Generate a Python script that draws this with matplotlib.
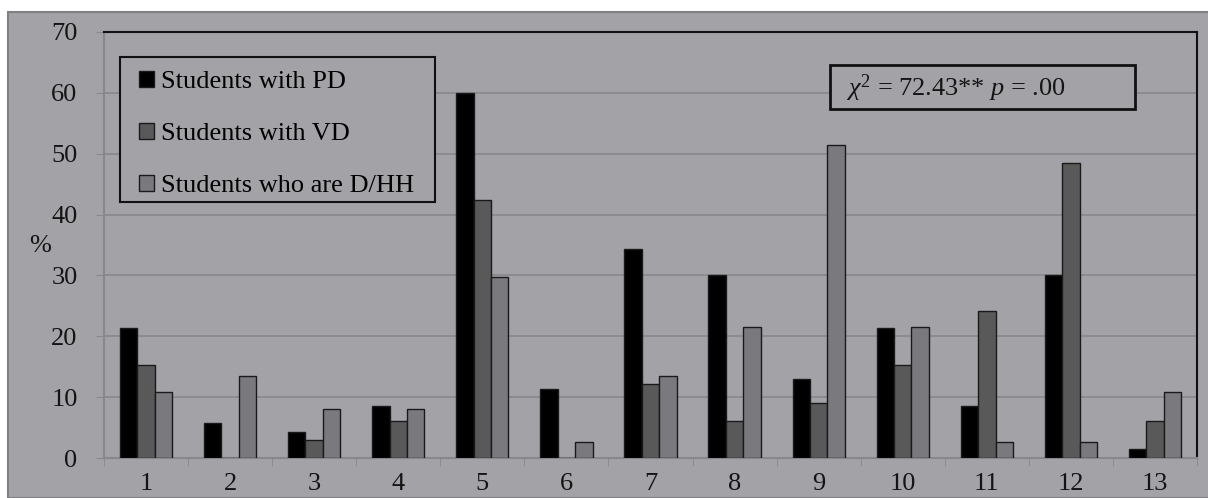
import matplotlib
matplotlib.use("Agg")
import matplotlib.pyplot as plt
import numpy as np
from matplotlib.patches import Rectangle

categories = ["1", "2", "3", "4", "5", "6", "7", "8", "9", "10", "11", "12", "13"]
pd_vals = [21.3, 5.7, 4.3, 8.6, 60.0, 11.4, 34.3, 30.0, 12.9, 21.4, 8.6, 30.0, 1.4]
vd_vals = [15.3, 0.0, 3.0, 6.1, 42.4, 0.0, 12.1, 6.1, 9.1, 15.2, 24.2, 48.5, 6.1]
dhh_vals = [10.8, 13.5, 8.1, 8.1, 29.7, 2.7, 13.5, 21.6, 51.4, 21.6, 2.7, 2.7, 10.8]
series_names = ["Students with PD", "Students with VD", "Students who are D/HH"]
y_ticks = [0, 10, 20, 30, 40, 50, 60, 70]

plt.rcParams['font.family'] = ['Liberation Serif', 'DejaVu Serif']
plt.rcParams['mathtext.fontset'] = 'custom'
plt.rcParams['mathtext.rm'] = 'Liberation Serif'
plt.rcParams['mathtext.it'] = 'Liberation Serif:italic'

bg = '#a3a2a7'
txt = '#141414'
W, H = 1208, 498
fig = plt.figure(figsize=(W / 100, H / 100), dpi=100)
fig.patch.set_facecolor('white')
fig.patches.append(Rectangle((8 / W, 0), 1.0, 1 - 12 / H, transform=fig.transFigure,
                             facecolor=bg, edgecolor='#7f7f84', linewidth=1.5, zorder=-10))

ax = fig.add_axes([104 / W, 1 - 458 / H, (1197 - 104) / W, (458 - 32) / H])
ax.set_zorder(1)
ax.set_facecolor(bg)

x = np.arange(len(categories))
bw = 0.207
colors = ['#000000', '#595959', '#7a797e']
for i, (vals, c, name) in enumerate(zip([pd_vals, vd_vals, dhh_vals], colors, series_names)):
    ax.bar(x + (i - 1) * bw, vals, width=bw, color=c, edgecolor='#1a1a1a', linewidth=1.0,
           label=name, zorder=3)

ax.set_xlim(-0.5, len(categories) - 0.5)
ax.set_ylim(0, 70)
ax.set_yticks(y_ticks)
ax.set_yticklabels([str(v) for v in y_ticks], fontsize=19, color=txt)
ax.yaxis.grid(True, color='#88878c', linewidth=1.2, zorder=0)
ax.set_axisbelow(True)
ax.tick_params(axis='y', length=6, color='#88878c', pad=13)

ax.set_xticks(x)
ax.set_xticklabels(categories, fontsize=19, color=txt)
ax.tick_params(axis='x', length=0, pad=11)
ax.set_xticks(np.arange(-0.5, len(categories), 1), minor=True)
ax.tick_params(axis='x', which='minor', length=6, color='#88878c')

for s in ['left', 'bottom']:
    ax.spines[s].set_color('#88878c')
    ax.spines[s].set_linewidth(1.5)
for s in ['top', 'right']:
    ax.spines[s].set_color('#111111')
    ax.spines[s].set_linewidth(1.5)

fig.text(40 / W, 1 - 246 / H, '%', fontsize=19, ha='center', va='center', color=txt)

# legend box
ax.add_patch(Rectangle(((120 - 104) / 1093, (458 - 202) / 426), 315 / 1093, 145 / 426,
                       transform=ax.transAxes, facecolor=bg, edgecolor='#111111',
                       linewidth=1.5, zorder=5))
leg = ax.legend(loc='upper left', bbox_to_anchor=((139 - 104) / 1093, (458 - 71) / 426),
                fontsize=19, frameon=False,
                handlelength=0.55, handleheight=0.55, handletextpad=0.3, labelspacing=1.12,
                borderpad=0, borderaxespad=0)
leg.set_zorder(6)

ax.add_patch(Rectangle(((830 - 104) / 1093, (458 - 109) / 426), 305 / 1093, 44 / 426,
                       transform=ax.transAxes, facecolor=bg, edgecolor='#111111',
                       linewidth=2, zorder=5))
ax.text((846 - 104) / 1093, (458 - 88) / 426, r'$\chi^2$ = 72.43** $p$ = .00',
        transform=ax.transAxes, fontsize=19, va='center', ha='left', color=txt, zorder=6)

fig.savefig('out.png', dpi=100, facecolor=fig.get_facecolor())
